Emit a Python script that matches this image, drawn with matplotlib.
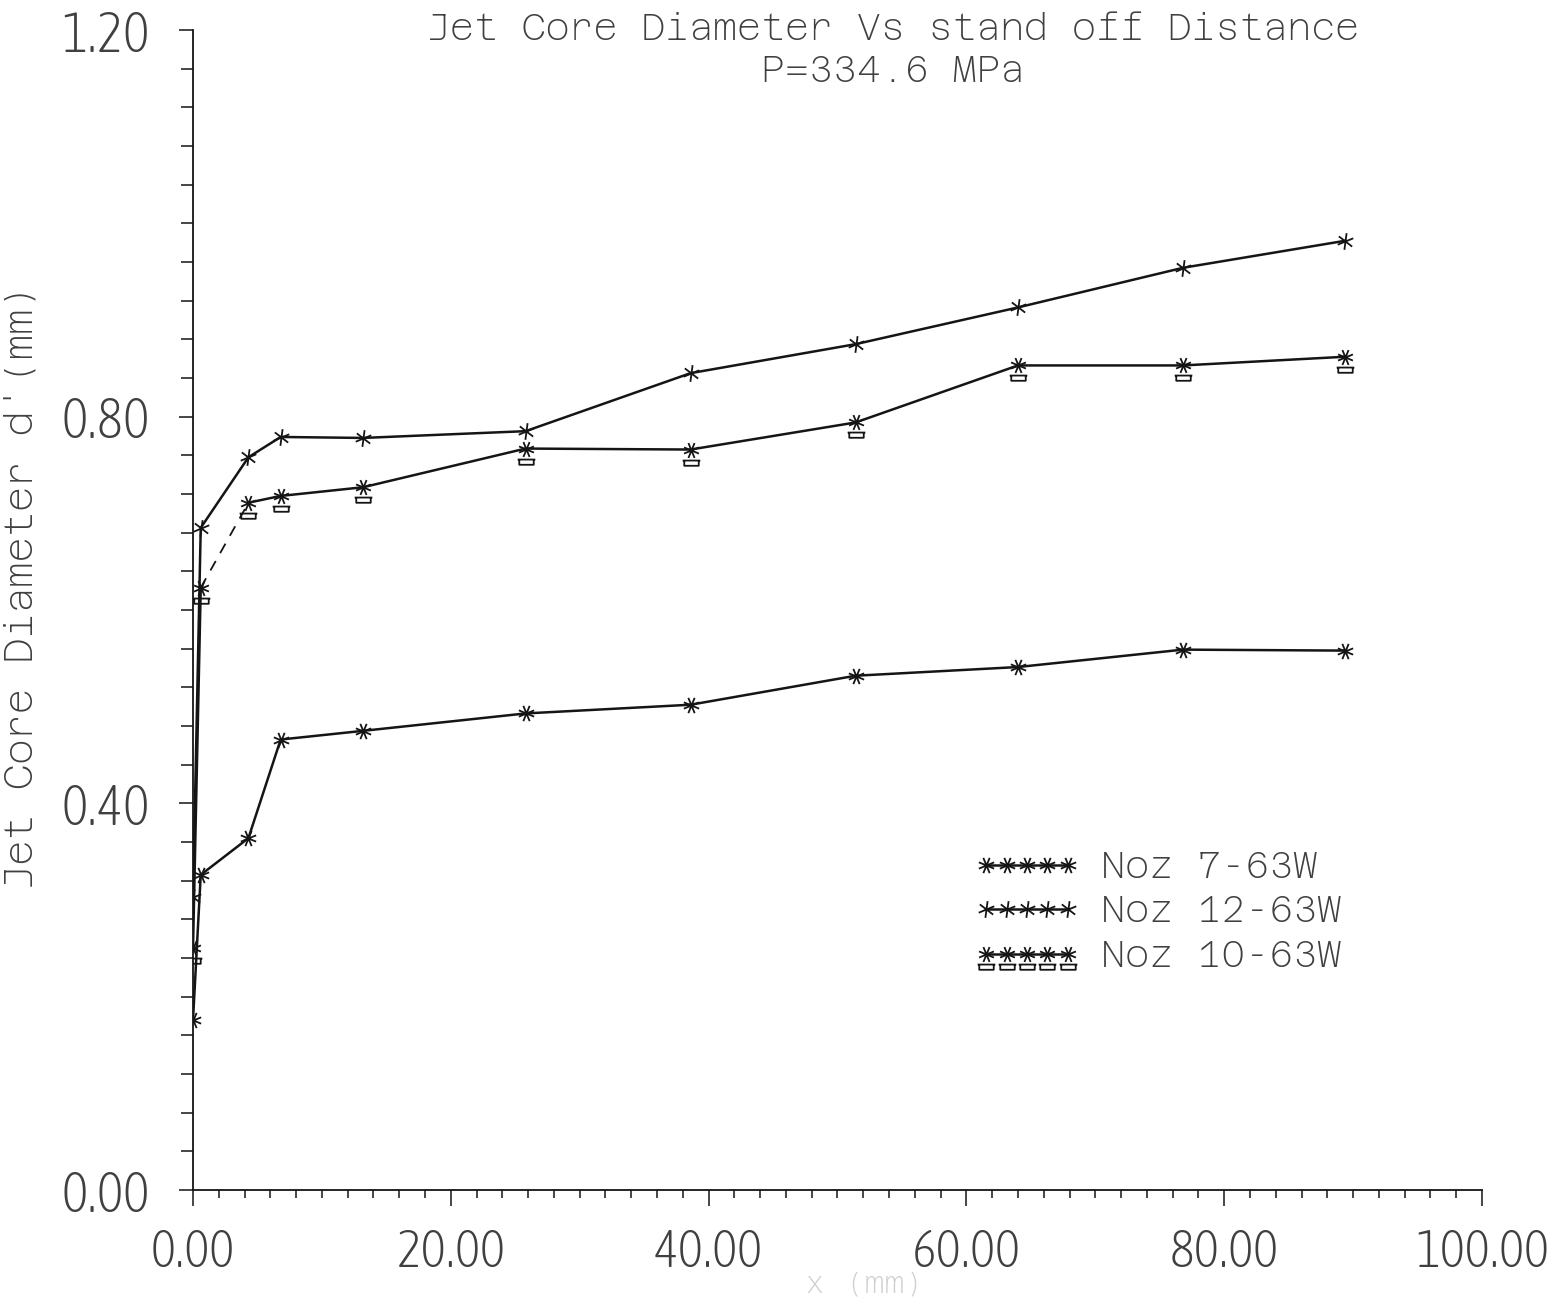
import numpy as np
import matplotlib
matplotlib.use("Agg")
import matplotlib.pyplot as plt
from matplotlib.path import Path
from matplotlib.lines import Line2D
from matplotlib.ticker import MultipleLocator, FixedLocator
from matplotlib import font_manager as fm

# Stand-off distance (mm) and jet core diameter (mm) per nozzle
stand_off = [0.0, 0.6, 4.3, 6.8, 13.2, 25.8, 38.6, 51.4, 64.0, 76.8, 89.4]
d_noz7 = [0.176, 0.326, 0.364, 0.466, 0.475, 0.493, 0.502, 0.532, 0.541, 0.559, 0.558]
d_noz12 = [0.303, 0.685, 0.758, 0.779, 0.778, 0.785, 0.845, 0.875, 0.913, 0.954, 0.982]
d_noz10 = [0.250, 0.623, 0.711, 0.718, 0.727, 0.767, 0.766, 0.794, 0.853, 0.853, 0.862]

series_labels = ["Noz 7-63W", "Noz 12-63W", "Noz 10-63W"]
x_ticks = [0, 20, 40, 60, 80, 100]
x_tick_labels = ["0.00", "20.00", "40.00", "60.00", "80.00", "100.00"]
y_ticks = [0.0, 0.4, 0.8, 1.2]
y_tick_labels = ["0.00", "0.40", "0.80", "1.20"]

TXT = "#404040"
INK = "#151515"

MONO = dict(family=["Azeret Mono", "DejaVu Sans Mono"], weight=200)
NARROW = dict(family=["Asap Condensed", "DejaVu Sans"], weight=200, stretch="condensed")


def star_path(r=1.0, n=4):
    verts, codes = [], []
    for k in range(n):
        a = np.pi * k / n + np.pi / 8
        verts += [(-r * np.cos(a), -r * np.sin(a)), (r * np.cos(a), r * np.sin(a))]
        codes += [Path.MOVETO, Path.LINETO]
    return verts, codes


v7, c7 = star_path(1.0, 4)
mk7 = Path(v7, c7)
v12, c12 = star_path(1.0, 3)
mk12 = Path(v12, c12)

# star with a small cup drawn below it
v10, c10 = star_path(1.0, 4)
v10 += [(-1.1, -1.25), (1.1, -1.25), (-0.9, -1.25), (-0.9, -1.9), (0.9, -1.9), (0.9, -1.25)]
c10 += [Path.MOVETO, Path.LINETO, Path.MOVETO, Path.LINETO, Path.LINETO, Path.LINETO]
mk10 = Path(v10, c10)

fig = plt.figure(figsize=(15.48, 13.0), dpi=100)
ax = fig.add_axes([193 / 1548, 1 - 1190 / 1300, (1482 - 193) / 1548, (1190 - 30) / 1300])

lw = 1.8
ax.plot(stand_off, d_noz7, color=INK, lw=lw, marker=mk7, ms=11, mew=1.3, mfc="none", mec=INK)
ax.plot(stand_off, d_noz12, color=INK, lw=lw, marker=mk12, ms=12, mew=1.3, mfc="none", mec=INK)
ax.plot(stand_off[:2], d_noz10[:2], color=INK, lw=lw)
ax.plot(stand_off[1:3], d_noz10[1:3], color=INK, lw=1.3, ls=(0, (6, 5)))
ax.plot(stand_off[2:], d_noz10[2:], color=INK, lw=lw)
ax.plot(stand_off, d_noz10, ls="none", marker=mk10, ms=22, mew=1.3, mfc="none", mec=INK)

ax.set_xlim(0, 100)
ax.set_ylim(0, 1.2)
for s in ("top", "right"):
    ax.spines[s].set_visible(False)
for s in ("left", "bottom"):
    ax.spines[s].set_color(INK)
    ax.spines[s].set_linewidth(1.3)

ax.xaxis.set_major_locator(FixedLocator(x_ticks))
ax.set_xticklabels(x_tick_labels, color=TXT, fontsize=38, **NARROW)
ax.xaxis.set_minor_locator(MultipleLocator(2))
ax.yaxis.set_major_locator(FixedLocator(y_ticks))
ax.set_yticklabels(y_tick_labels, color=TXT, fontsize=40, **NARROW)
ax.yaxis.set_minor_locator(MultipleLocator(0.04))

ax.tick_params(axis="both", which="both", direction="out", color=INK, width=1.1)
ax.tick_params(axis="x", which="major", length=11.5, pad=15)
ax.tick_params(axis="x", which="minor", length=6)
ax.tick_params(axis="y", which="major", length=10, pad=21)
ax.tick_params(axis="y", which="minor", length=9)

ax.set_ylabel("Jet Core Diameter d'(mm)", fontsize=28, color=TXT, **MONO)
ax.yaxis.set_label_coords(-0.119, 0.52)
fig.text(865 / 1548, 1 - 1284 / 1300, "x (mm)", fontsize=22, color="#d0d0d0",
         ha="center", va="center", **MONO)

fig.text(893 / 1548, 1 - 30 / 1300, "Jet Core Diameter Vs stand off Distance",
         fontsize=26.5, color=TXT, ha="center", va="center", **MONO)
fig.text(893 / 1548, 1 - 72 / 1300, "P=334.6 MPa",
         fontsize=26.5, color=TXT, ha="center", va="center", **MONO)

handles = [
    Line2D([], [], color=INK, lw=lw, marker=mk7, ms=11, mew=1.3, mfc="none", mec=INK),
    Line2D([], [], color=INK, lw=lw, marker=mk12, ms=12, mew=1.3, mfc="none", mec=INK),
    Line2D([], [], color=INK, lw=lw, marker=mk10, ms=22, mew=1.3, mfc="none", mec=INK),
]
leg = ax.legend(handles, series_labels, loc="upper left",
                bbox_to_anchor=(975 / 1548, 1 - 850 / 1300), bbox_transform=fig.transFigure,
                frameon=False, numpoints=5, handlelength=2.8, handletextpad=0.6,
                labelspacing=0.25, borderpad=0, borderaxespad=0,
                prop=fm.FontProperties(size=26.7, **MONO))
for t in leg.get_texts():
    t.set_color(TXT)

fig.savefig("out.png", dpi=100)
